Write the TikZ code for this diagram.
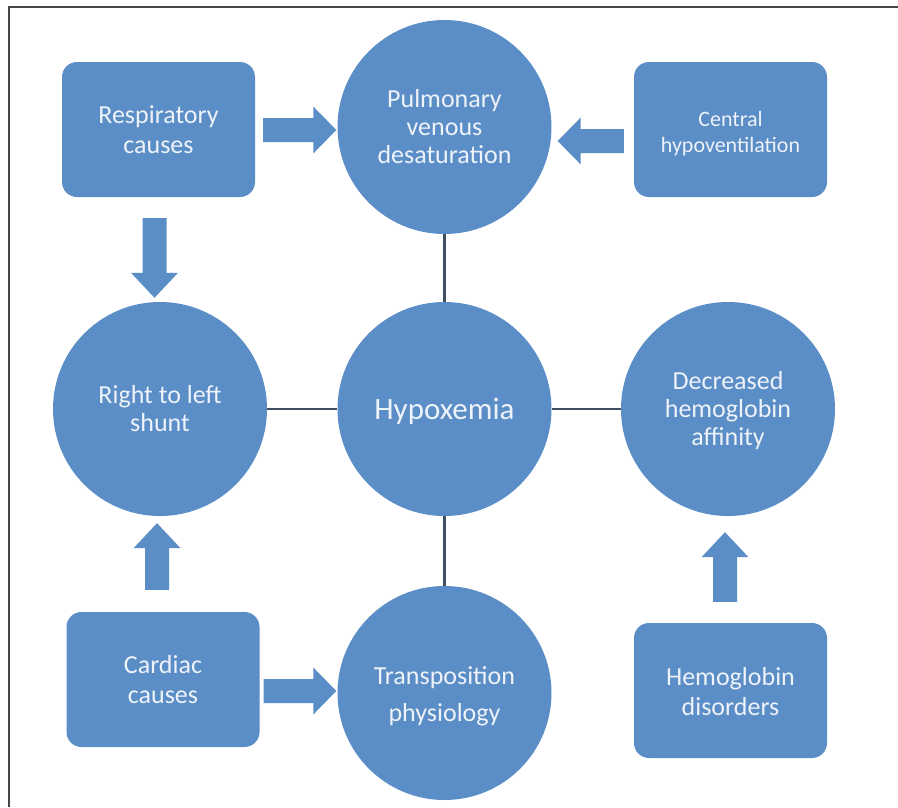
\documentclass[tikz,border=0pt]{standalone}
\usepackage{fontspec}
\setmainfont{Carlito}
\usetikzlibrary{calc}
\definecolor{fillblue}{RGB}{91,142,198}
\definecolor{txtwhite}{RGB}{238,242,249}
\definecolor{linkgray}{RGB}{62,80,98}
\definecolor{framegray}{RGB}{70,70,70}
\newcommand\lowtxt[2][3.5pt]{\raisebox{-#1}[\height][\depth]{\begin{tabular}{@{}c@{}}#2\end{tabular}}}
% horizontal block arrow: #1 start, #2 tip, #3 = +1 (right) or -1 (left)
\newcommand\hbarrow[3]{%
  \fill[fillblue] ($(#1)+(0,-12)$) -- ($(#2)+({-23*(#3)},-12)$) -- ($(#2)+({-23*(#3)},-23.5)$)
    -- (#2) -- ($(#2)+({-23*(#3)},23.5)$) -- ($(#2)+({-23*(#3)},12)$) -- ($(#1)+(0,12)$) -- cycle;}
% vertical block arrow: #1 start, #2 tip, #3 = +1 (down) or -1 (up)
\newcommand\vbarrow[3]{%
  \fill[fillblue] ($(#1)+(-12,0)$) -- ($(#2)+(-12,{-25*(#3)})$) -- ($(#2)+(-23.5,{-25*(#3)})$)
    -- (#2) -- ($(#2)+(23.5,{-25*(#3)})$) -- ($(#2)+(12,{-25*(#3)})$) -- ($(#1)+(12,0)$) -- cycle;}
\tikzset{
  circ/.style={circle, fill=fillblue, minimum size=214pt, inner sep=0pt,
    text=txtwhite, align=center, font=\fontsize{26}{28}\selectfont},
  rbox/.style={rectangle, rounded corners=15pt, fill=fillblue, minimum width=193pt,
    minimum height=135pt, inner sep=0pt, text=txtwhite, align=center,
    font=\fontsize{26}{30}\selectfont},
  link/.style={draw=linkgray, line width=2.5pt},
}
\begin{document}
\begin{tikzpicture}[x=1pt,y=-1pt]
\useasboundingbox (0,0) rectangle (898,807);
\fill[white] (0,0) rectangle (898,807);
% frame (top and left edges)
\draw[framegray, line width=1.5pt] (9,807) -- (9,7) -- (898,7);

% circles
\node[circ] (pulm) at (444.5,127) {\lowtxt[2.5pt]{Pulmonary\\venous\\desaturation}};
\node[circ] (hyp) at (444.5,409) {\fontsize{31}{36}\selectfont\lowtxt[3pt]{Hypoxemia}};
\node[circ] (shunt) at (160,409) {\lowtxt[2.5pt]{Right to left\\shunt}};
\node[circ] (dec) at (728,409) {\lowtxt[3pt]{Decreased\\hemoglobin\\affinity}};
\node[circ, font=\fontsize{26}{37}\selectfont] (trans) at (444.5,693) {\lowtxt[3pt]{Transposition\\physiology}};

% boxes
\node[rbox] (resp) at (158.5,129.5) {\lowtxt[3pt]{Respiratory\\causes}};
\node[rbox, font=\fontsize{22}{26}\selectfont] (cent) at (730.5,129.5) {\lowtxt[4.5pt]{Central\\hypoventilation}};
\node[rbox] (card) at (163,679.5) {\lowtxt[3pt]{Cardiac\\causes}};
\node[rbox] (hemo) at (730.5,690.5) {\lowtxt[4pt]{Hemoglobin\\disorders}};

% connecting lines
\draw[link] (pulm.south) -- (hyp.north);
\draw[link] (hyp.south) -- (trans.north);
\draw[link] (hyp.west) -- (shunt.east);
\draw[link] (hyp.east) -- (dec.west);

% block arrow end points
\coordinate (a1s) at ($(resp.east)+(8,0.5)$);
\coordinate (a1t) at ($(resp.east -| pulm.west)+(-1,0.5)$);
\coordinate (a2s) at ($(cent.west)+(-10,11.5)$);
\coordinate (a2t) at ($(cent.west -| pulm.east)+(6,11.5)$);
\coordinate (a3s) at ($(resp.south)+(-4,21)$);
\coordinate (a3t) at ($(resp.south |- shunt.north)+(-4,-4)$);
\coordinate (a4s) at ($(card.north)+(-6,-22)$);
\coordinate (a4t) at ($(card.north |- shunt.south)+(-6,7)$);
\coordinate (a5s) at ($(card.east)+(4,11.5)$);
\coordinate (a5t) at ($(card.east -| trans.west)+(-1,11.5)$);
\coordinate (a6s) at ($(hemo.north)+(-5.5,-21)$);
\coordinate (a6t) at ($(hemo.north |- dec.south)+(-5.5,16)$);

% block arrows
\hbarrow{a1s}{a1t}{1}
\hbarrow{a2s}{a2t}{-1}
\vbarrow{a3s}{a3t}{1}
\vbarrow{a4s}{a4t}{-1}
\hbarrow{a5s}{a5t}{1}
\vbarrow{a6s}{a6t}{-1}
\end{tikzpicture}
\end{document}
